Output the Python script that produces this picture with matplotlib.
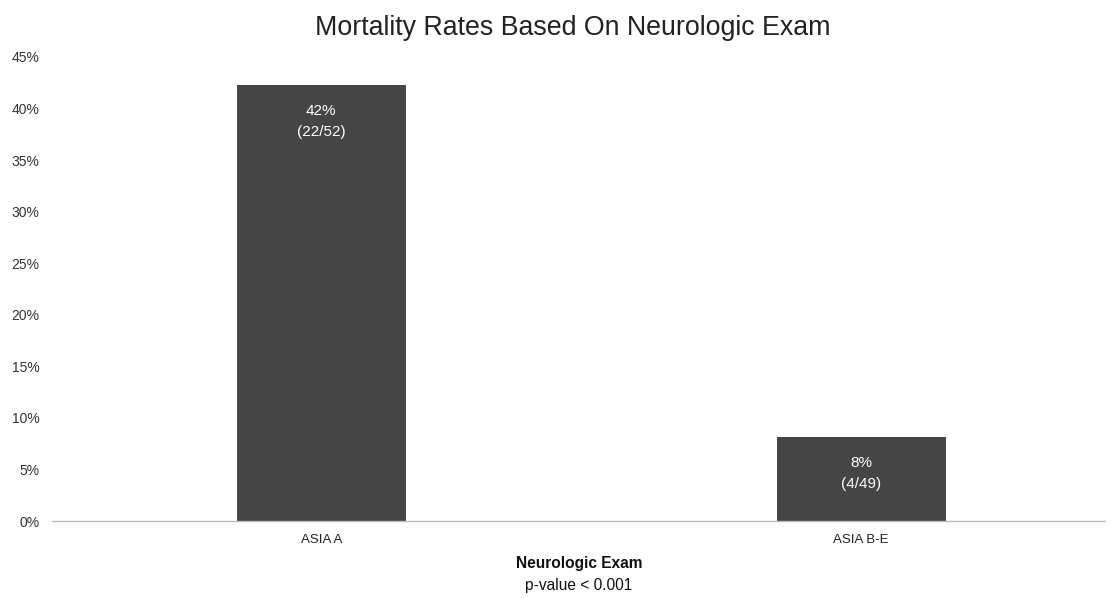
import matplotlib.pyplot as plt
from matplotlib.ticker import PercentFormatter

# Data
groups = ["ASIA A", "ASIA B-E"]
deaths = [22, 4]
totals = [52, 49]
rates = [d / t * 100 for d, t in zip(deaths, totals)]
yticks = list(range(0, 50, 5))

plt.rcParams["font.family"] = ["Liberation Sans", "DejaVu Sans"]

fig = plt.figure(figsize=(11.18, 5.99), dpi=100)
ax = fig.add_axes([0.0465, 0.130, 0.9415, 0.775])

xpos = list(range(len(groups)))
bars = ax.bar(xpos, rates, width=0.313, color="#454545")

# Labels inside bars
for x, r, d, t in zip(xpos, rates, deaths, totals):
    ax.annotate(f"{round(r)}%\n({d}/{t})", xy=(x, r), xytext=(0, -14),
                textcoords="offset points", ha="center", va="top",
                color="white", fontsize=11, linespacing=1.6)

ax.set_xlim(-0.499, 1.451)
ax.set_ylim(0, 45)
ax.set_yticks(yticks)
ax.yaxis.set_major_formatter(PercentFormatter(decimals=0))
ax.set_xticks(xpos)
ax.set_xticklabels(groups)
ax.tick_params(axis="y", length=0, pad=9, labelsize=10, labelcolor="#333333")
ax.tick_params(axis="x", length=0, pad=9, labelsize=9.5, labelcolor="#222222")

for side in ["top", "right", "left"]:
    ax.spines[side].set_visible(False)
ax.spines["bottom"].set_color("#bbbbbb")
ax.spines["bottom"].set_linewidth(1)

# Title and axis label
fig.text(0.512, 0.953, "Mortality Rates Based On Neurologic Exam",
         ha="center", va="center", fontsize=19.3, color="#222222")
fig.text(0.518, 0.060, "Neurologic Exam", ha="center", va="center",
         fontsize=11.2, fontweight="bold", color="#111111")
fig.text(0.518, 0.023, "p-value < 0.001", ha="center", va="center",
         fontsize=11.2, color="#111111")

plt.savefig("out.png", dpi=100)
